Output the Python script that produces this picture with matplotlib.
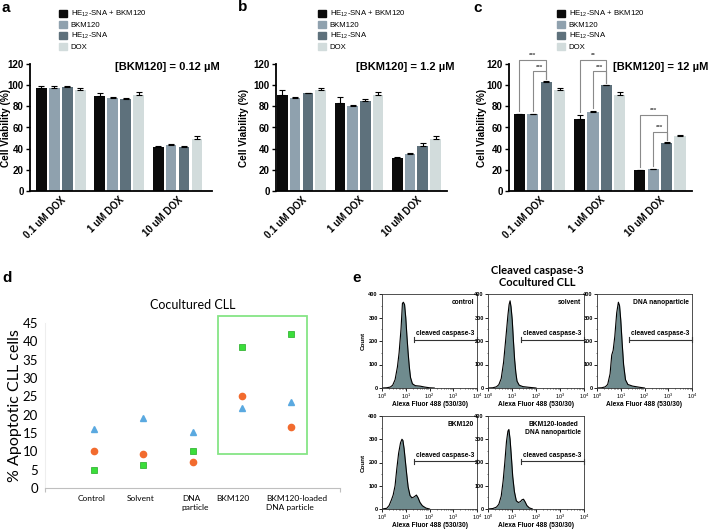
import numpy as np
import matplotlib
matplotlib.use("Agg")
import matplotlib.pyplot as plt
from matplotlib.patches import Patch, Rectangle
from matplotlib.ticker import MultipleLocator, LogLocator, NullFormatter

plt.rcParams['font.family'] = ['Liberation Sans', 'DejaVu Sans']
plt.rcParams['mathtext.fontset'] = 'custom'
plt.rcParams['mathtext.rm'] = 'Liberation Sans'
plt.rcParams['mathtext.it'] = 'Liberation Sans'
plt.rcParams['mathtext.bf'] = 'Liberation Sans:bold'

# ---- panels a-c : cell viability ----
series = ['HE$_{12}$-SNA + BKM120', 'BKM120', 'HE$_{12}$-SNA', 'DOX']
series_colors = ['#0b0b0b', '#8fa1ae', '#5e717c', '#d2dcdc']
dox_groups = ['0.1 uM DOX', '1 uM DOX', '10 uM DOX']

# values[group][series]
via_a = [[97, 97, 98, 95], [89.5, 87.5, 86.5, 91], [42, 43, 42, 49]]
err_a = [[2, 2, 1, 2.5], [3.5, 1, 1.5, 2.5], [0.5, 1, 0.5, 3]]
via_b = [[90.5, 87.5, 92.5, 95], [83.5, 80.5, 85.5, 91], [31.5, 35, 42.5, 49]]
err_b = [[4.5, 1.5, 0.5, 2], [5.5, 0.5, 1, 2.5], [0.5, 1, 2.5, 3]]
via_c = [[72.5, 72.5, 103, 95], [68, 75, 100, 91], [19.5, 20.5, 45, 51.5]]
err_c = [[0.3, 0.5, 0.5, 2.5], [3.5, 0.5, 0.5, 2.5], [0.3, 0.5, 1.5, 1]]
bkm_conc = ['[BKM120] = 0.12 µM', '[BKM120] = 1.2 µM', '[BKM120] = 12 µM']

# significance in panel c: (group, from bar, to bar, bracket height, stars)
sig_c = [(0, 0, 2, 124, '***'), (0, 1, 2, 113, '***'),
         (1, 0, 2, 124, '**'), (1, 1, 2, 113, '***'),
         (2, 0, 2, 72, '***'), (2, 1, 2, 56, '***')]

# ---- panel d : apoptotic CLL cells ----
treatments = ['Control', 'Solvent', 'DNA\nparticle', 'BKM120', 'BKM120-loaded\nDNA particle']
patient_tri = [16, 19, 15.3, 21.8, 23.5]
patient_circ = [10, 9.3, 7.2, 25, 16.7]
patient_sq = [5, 6.3, 10, 38.5, 42]

# ---- panel e : flow histograms (log10 fluorescence, count) ----
hist_names = ['control', 'solvent', 'DNA nanoparticle', 'BKM120', 'BKM120-loaded\nDNA nanoparticle']
ctrl_log = [0, 0.2, 0.35, 0.45, 0.55, 0.65, 0.72, 0.8, 0.86, 0.9, 0.95, 1.0, 1.05, 1.1, 1.15, 1.2, 1.28, 1.4, 1.6, 1.8, 2.0, 2.2]
ctrl_cnt = [0, 1, 4, 12, 35, 90, 150, 250, 360, 365, 355, 300, 220, 150, 90, 45, 18, 10, 8, 4, 1, 0]
solv_log = [0, 0.2, 0.35, 0.45, 0.55, 0.65, 0.75, 0.83, 0.88, 0.92, 0.96, 1.01, 1.06, 1.11, 1.16, 1.21, 1.3, 1.45, 1.7, 2.0]
solv_cnt = [0, 1, 5, 14, 40, 110, 220, 310, 355, 371, 345, 290, 200, 120, 65, 29, 12, 6, 3, 0]
dna_log = [0, 0.2, 0.35, 0.45, 0.55, 0.62, 0.68, 0.75, 0.83, 0.9, 0.95, 1.0, 1.06, 1.12, 1.2, 1.3, 1.5, 1.8, 2.0]
dna_cnt = [0, 1, 5, 15, 60, 140, 160, 220, 320, 365, 350, 290, 190, 100, 35, 15, 8, 3, 0]
bkm_log = [0, 0.2, 0.3, 0.4, 0.47, 0.55, 0.62, 0.7, 0.78, 0.84, 0.88, 0.93, 0.98, 1.04, 1.1, 1.18, 1.26, 1.35, 1.45, 1.52, 1.6, 1.7, 1.85, 2.0]
bkm_cnt = [0, 3, 15, 40, 60, 100, 170, 240, 285, 300, 295, 260, 210, 150, 95, 58, 48, 52, 60, 48, 28, 14, 4, 0]
load_log = [0, 0.2, 0.35, 0.45, 0.55, 0.63, 0.7, 0.77, 0.83, 0.87, 0.92, 0.97, 1.03, 1.1, 1.18, 1.27, 1.35, 1.42, 1.48, 1.55, 1.62, 1.72, 1.85]
load_cnt = [0, 2, 8, 20, 55, 120, 200, 290, 335, 342, 300, 230, 140, 75, 35, 28, 32, 40, 42, 30, 15, 5, 0]
gate_lo, gate_hi, gate_cnt = 1.36, 4.0, 205

W, H = 709, 531
fig = plt.figure(figsize=(W / 100, H / 100), dpi=100)


def px_axes(l, t, r, b):
    return fig.add_axes([l / W, 1 - b / H, (r - l) / W, (b - t) / H])


def bar_panel(ax, vals, errs, xlim, conc, conc_x, leg_x, ylab_x):
    gap = 4.5
    for k in range(4):
        xs = [g * gap + k for g in range(3)]
        hs = [vals[g][k] for g in range(3)]
        es = [errs[g][k] for g in range(3)]
        ax.bar(xs, hs, width=0.83, color=series_colors[k], label=series[k], zorder=2)
        ax.errorbar(xs, hs, yerr=[np.zeros(3), es], fmt='none', ecolor='black',
                    elinewidth=0.8, capsize=2, capthick=0.8, zorder=3)
    ax.set_xlim(*xlim)
    ax.set_ylim(0, 120)
    ax.set_yticks(range(0, 121, 20))
    ax.set_xticks([g * gap + 1.5 for g in range(3)])
    ax.set_xticklabels(dox_groups, rotation=45, ha='right', va='top',
                       rotation_mode='anchor', fontweight='bold', fontsize=7)
    ax.tick_params(axis='x', length=0, pad=3)
    ax.tick_params(axis='y', length=3, width=1, labelsize=7, pad=1.5)
    for t in ax.get_yticklabels():
        t.set_fontweight('bold')
    for s in ['top', 'right']:
        ax.spines[s].set_visible(False)
    for s in ['left', 'bottom']:
        ax.spines[s].set_linewidth(1.3)
    ax.set_ylabel('Cell Viability (%)', fontweight='bold', fontsize=7.2)
    ax.yaxis.set_label_coords(ylab_x, 0.5)
    fig.text(conc_x / W, 1 - 67 / H, conc, ha='right', va='center',
             fontweight='bold', fontsize=8)
    handles = [Patch(color=c) for c in series_colors]
    ax.legend(handles, series, loc='upper left', bbox_to_anchor=(leg_x / W, 1 - 9 / H),
              bbox_transform=fig.transFigure, frameon=False, fontsize=5.6,
              handlelength=1.0, handleheight=1.0, handletextpad=0.5,
              labelspacing=0.22, borderpad=0, borderaxespad=0)


ax_a = px_axes(30, 64, 212, 191)
bar_panel(ax_a, via_a, err_a, (-0.87, 13.15), bkm_conc[0], 220, 59, -0.102)
ax_b = px_axes(276, 64, 447, 191)
bar_panel(ax_b, via_b, err_b, (-0.5, 12.9), bkm_conc[1], 455, 318, -0.155)
ax_c = px_axes(509, 64, 692, 191)
bar_panel(ax_c, via_c, err_c, (-0.78, 12.9), bkm_conc[2], 708, 557, -0.118)

for g, b0, b1, yb, stars in sig_c:
    x0, x1 = g * 4.5 + b0, g * 4.5 + b1
    y0 = via_c[g][b0] + err_c[g][b0] + 3
    y1 = via_c[g][b1] + err_c[g][b1] + 2
    ax_c.plot([x0, x0, x1, x1], [y0, yb, yb, y1], color='#8a8a8a', lw=0.8,
              clip_on=False, zorder=4)
    ax_c.text((x0 + x1) / 2, yb + 1.5, stars, ha='center', va='bottom',
              fontsize=4.5, fontweight='bold', color='#444444')

for lab, x, y in [('a', 2, 8), ('b', 238, 7), ('c', 473, 8), ('d', 2, 278), ('e', 352, 278)]:
    fig.text(x / W, 1 - y / H, lab, ha='left', va='center', fontsize=11, fontweight='bold')

# ---- panel d ----
ax_d = px_axes(45, 323, 340, 488)
cat_x = np.arange(1, len(treatments) + 1)
ax_d.plot(cat_x, patient_tri, linestyle='none', marker='^', color='#5aa9e0', markersize=5)
ax_d.plot(cat_x, patient_circ, linestyle='none', marker='o', color='#f26b2e', markersize=4.5)
ax_d.plot(cat_x, patient_sq, linestyle='none', marker='s', color='#3ade3a',
          markeredgecolor='#22aa22', markeredgewidth=0.5, markersize=3.8)
ax_d.add_patch(Rectangle((3.51, 9.3), 5.33 - 3.51, 46.9 - 9.3, fill=False,
                         ec='#86e586', lw=1.3, clip_on=False))
ax_d.set_xlim(0, 6)
ax_d.set_ylim(0, 45)
ax_d.set_yticks(range(0, 46, 5))
ax_d.set_xticks([0, 6])
ax_d.set_xticklabels(['', ''])
ax_d.tick_params(axis='x', length=3, color='#bfbfbf')
label_shift = [-0.06, -0.06, 0.06, -0.18, 0.12]
for x, lab, sh in zip(cat_x, treatments, label_shift):
    ax_d.text(x + sh, -2.0, lab, ha='center', va='top', fontsize=6, family='Lato',
              multialignment='left')
ax_d.tick_params(axis='y', length=0, labelsize=9.5, pad=5)
for t in ax_d.get_yticklabels():
    t.set_family('Lato')
for s in ['top', 'right']:
    ax_d.spines[s].set_visible(False)
ax_d.spines['bottom'].set_color('#bfbfbf')
ax_d.spines['left'].set_color('#eeeeee')
ax_d.set_ylabel('% Apoptotic CLL cells', fontsize=11.5, family='Lato')
ax_d.yaxis.set_label_coords(-0.078, 0.5)
ax_d.set_title('Cocultured CLL', fontsize=9, family='Lato', pad=10)

# ---- panel e ----
fig.text(537 / W, 1 - 271 / H, 'Cleaved caspase-3', ha='center', va='center',
         fontsize=8, fontweight='bold', family='Lato')
fig.text(537 / W, 1 - 283 / H, 'Cocultured CLL', ha='center', va='center',
         fontsize=8, fontweight='bold', family='Lato')

hists = [(ctrl_log, ctrl_cnt), (solv_log, solv_cnt), (dna_log, dna_cnt),
         (bkm_log, bkm_cnt), (load_log, load_cnt)]
boxes = [(382, 294, 477, 388), (488, 294, 584, 388), (597, 294, 692, 388),
         (382, 416, 477, 509), (488, 416, 584, 509)]
for i, ((lg, cnt), box, name) in enumerate(zip(hists, boxes, hist_names)):
    ax = px_axes(*box)
    xv = 10 ** np.array(lg)
    ax.fill_between(xv, cnt, color='#6f8b8e', lw=0)
    ax.plot(xv, cnt, color='black', lw=0.8)
    ax.set_xscale('log')
    ax.set_xlim(1, 1e4)
    ax.set_ylim(0, 400)
    ax.set_yticks(range(0, 401, 100))
    ax.yaxis.set_minor_locator(MultipleLocator(50))
    ax.set_xticks([1, 10, 100, 1000, 10000])
    ax.set_xticklabels(['$10^0$', '$10^1$', '$10^2$', '$10^3$', '$10^4$'])
    ax.xaxis.set_minor_locator(LogLocator(base=10, subs=np.arange(2, 10)))
    ax.xaxis.set_minor_formatter(NullFormatter())
    ax.tick_params(labelsize=4, length=2, width=0.6, pad=1)
    ax.tick_params(which='minor', length=1, width=0.4)
    for t in ax.get_xticklabels() + ax.get_yticklabels():
        t.set_fontweight('bold')
    for s in ax.spines.values():
        s.set_linewidth(0.6)
        s.set_color('#333333')
    ax.set_xlabel('Alexa Fluor 488 (530/30)', fontsize=4.8, fontweight='bold')
    ax.xaxis.set_label_coords(0.5, -0.135)
    if box[0] == 382:
        ax.set_ylabel('Count', fontsize=4.5, fontweight='bold')
        ax.yaxis.set_label_coords(-0.17, 0.5)
    ax.text(0.97, 0.95, name, transform=ax.transAxes, ha='right', va='top',
            fontsize=4.8, fontweight='bold', multialignment='center')
    gx = [10 ** gate_lo, 10 ** gate_hi]
    ax.plot(gx, [gate_cnt, gate_cnt], color='#333333', lw=0.8, clip_on=False)
    for x in gx:
        ax.plot([x, x], [gate_cnt - 10, gate_cnt + 10], color='#333333', lw=0.8, clip_on=False)
    ax.text(10 ** ((gate_lo + gate_hi) / 2), gate_cnt + 10, 'cleaved caspase-3',
            ha='center', va='bottom', fontsize=4.8, fontweight='bold')

fig.savefig('out.png', dpi=100)
